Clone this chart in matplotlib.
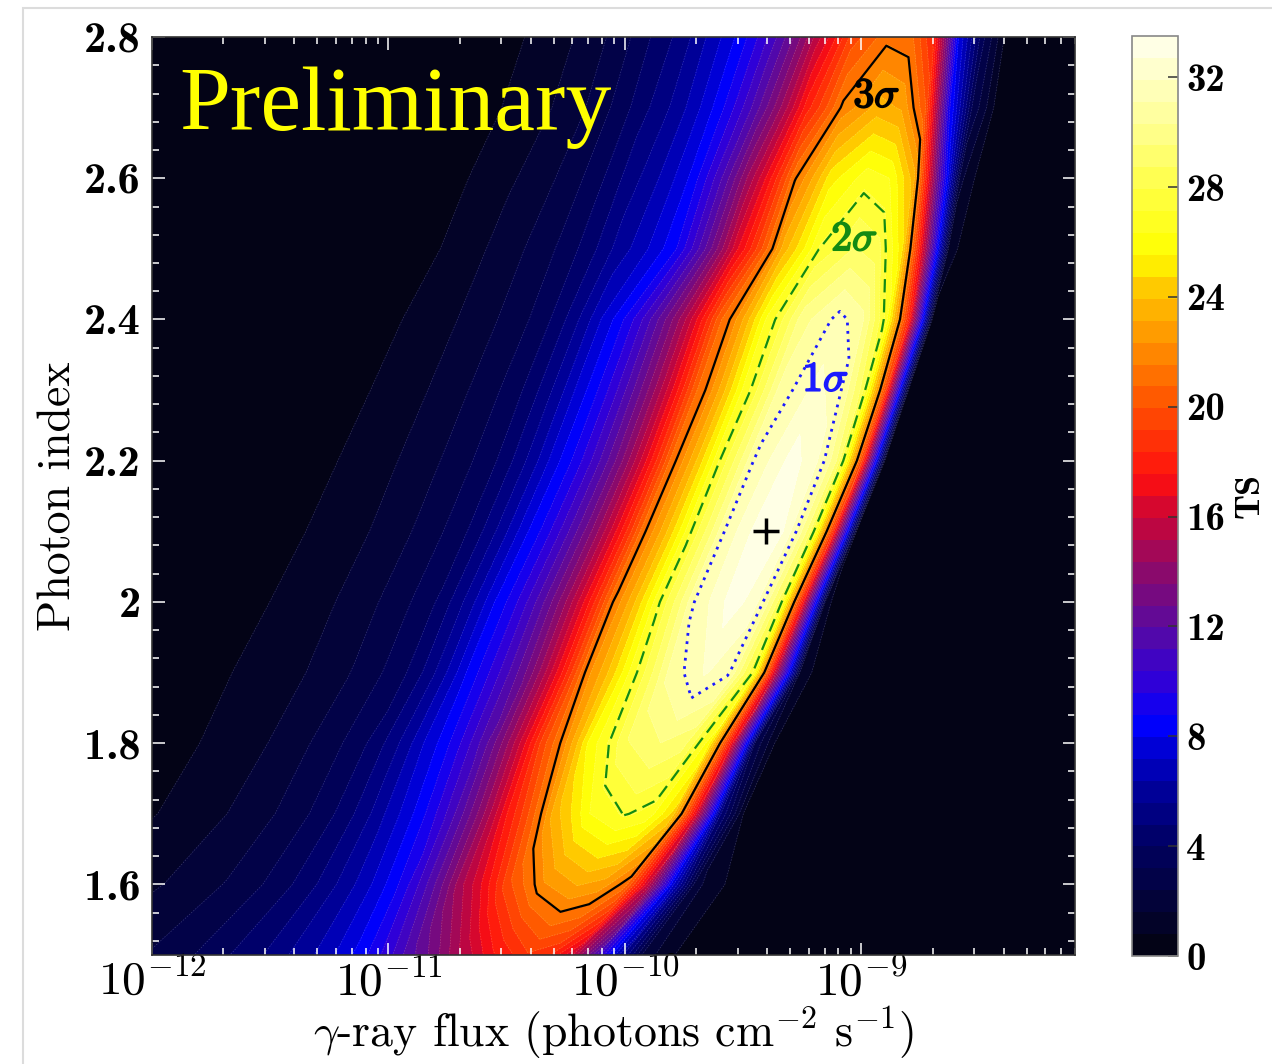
import matplotlib.pyplot as plt
import matplotlib.patheffects as pe
import numpy as np
from matplotlib.colors import LinearSegmentedColormap
from matplotlib.patches import Rectangle
from matplotlib.ticker import FixedLocator, FuncFormatter, LogLocator, MultipleLocator, NullFormatter

plt.rcParams['mathtext.fontset'] = 'cm'

# photon index of each scan row
index_rows = [1.5, 1.6, 1.7, 1.8, 1.9, 2.0, 2.1, 2.2, 2.3, 2.4, 2.5, 2.6, 2.7, 2.8]
# log10 flux of the TS maximum along each row
peak_logflux = [-10.42, -10.20, -10.00, -9.85, -9.66, -9.55, -9.42,
                -9.30, -9.20, -9.10, -9.03, -8.98, -8.93, -8.89]
# flux steps (dex) of the sampled columns, counted from the row maximum
offset_cols = [-3.2, -2.6, -2.0, -1.75, -1.5, -1.25, -1.0, -0.75, -0.5, -0.3,
               -0.15, 0.0, 0.1, 0.2, 0.3, 0.4, 0.5, 0.7, 3.5]
# TS along each row (one list per photon index)
ts_rows = [
    [0.3, 0.8, 1.5, 2.0, 2.8, 4.0, 5.6, 7.8, 11.5, 14.8, 17.3, 19.0, 18.4, 15.8, 11.0, 6.0, 2.0, 0, 0],
    [0.1, 0.5, 1.1, 1.6, 2.4, 3.7, 5.8, 8.9, 14.8, 19.6, 22.2, 23.2, 22.8, 21.2, 15.5, 7.5, 1.8, 0, 0],
    [0, 0.3, 0.75, 1.4, 2.3, 3.8, 6.6, 10.5, 17.5, 23.5, 26.3, 27.3, 26.8, 24.5, 16.5, 5.0, 0.8, 0, 0],
    [0, 0.2, 0.7, 1.3, 2.3, 3.9, 7.2, 11.5, 19.5, 25.8, 28.6, 29.5, 29.0, 26.0, 17.0, 3.0, 0.3, 0, 0],
    [0, 0.1, 0.8, 1.4, 2.4, 4.1, 8.2, 13.0, 22.0, 27.0, 30.6, 32.0, 31.2, 27.2, 15.0, 1.5, 0, 0, 0],
    [0, 0.05, 0.7, 1.35, 2.35, 4.0, 8.0, 13.0, 21.6, 27.3, 31.3, 33.1, 32.3, 28.5, 17.5, 1.0, 0, 0, 0],
    [0, 0, 0.65, 1.3, 2.3, 3.95, 7.8, 12.8, 21.4, 27.2, 31.4, 33.4, 32.6, 29.0, 18.5, 0.6, 0, 0, 0],
    [0, 0, 0.6, 1.3, 2.3, 3.9, 7.6, 12.5, 21.2, 27.2, 31.3, 33.0, 32.3, 29.3, 19.5, 0.5, 0, 0, 0],
    [0, 0, 0.5, 1.2, 2.2, 3.8, 7.4, 12.3, 20.6, 26.5, 30.5, 32.2, 31.5, 28.5, 19.5, 0.5, 0, 0, 0],
    [0, 0, 0.4, 1.1, 2.1, 3.6, 7.2, 12.2, 20.5, 26.5, 30.0, 31.4, 30.6, 27.0, 18.0, 0.6, 0, 0, 0],
    [0, 0, 0.2, 0.8, 1.9, 3.3, 5.9, 8.8, 16.5, 23.5, 27.2, 28.8, 28.2, 25.0, 15.0, 1.2, 0, 0, 0],
    [0, 0, 0.1, 0.6, 1.5, 2.8, 5.2, 8.0, 14.5, 21.5, 25.2, 26.8, 26.3, 23.5, 12.5, 1.8, 0, 0, 0],
    [0, 0, 0.05, 0.4, 1.1, 2.3, 4.5, 7.2, 12.0, 18.0, 21.8, 23.5, 23.0, 20.0, 9.0, 3.0, 0.5, 0, 0],
    [0, 0, 0, 0.3, 0.9, 2.0, 4.0, 6.6, 10.5, 15.5, 19.5, 21.3, 21.0, 18.0, 8.0, 3.5, 0.6, 0, 0],
]

# best-fit position
best_flux = 3.96e-10
best_index = 2.10

# delta-TS for 1, 2, 3 sigma with two free parameters
sigma_labels = ['1σ', '2σ', '3σ']
sigma_dts = [2.30, 6.18, 11.83]
sigma_label_flux = [7.05e-10, 9.35e-10, 1.16e-9]
sigma_label_index = [2.316, 2.515, 2.718]

x_ticks = [1e-12, 1e-11, 1e-10, 1e-9]
cbar_ticks = [0, 4, 8, 12, 16, 20, 24, 28, 32]
ts_max_bar = 33.5

# colour table (TS anchor, colour)
cmap_ts = [0, 2, 4, 6, 8.5, 10, 12, 14, 16, 17.5, 20, 22, 24, 25.7, 28, 30, 32, 33.5]
cmap_hex = ['#03030d', '#03033a', '#000060', '#00009a', '#0000ff', '#3000d8',
            '#5a0a9e', '#8c0a6a', '#cc0535', '#ff0f0f', '#ff5000', '#ff8800',
            '#ffbf00', '#ffff00', '#ffff45', '#ffff8a', '#ffffc5', '#fffff0']


def main():
    cmap = LinearSegmentedColormap.from_list(
        'ts', list(zip(np.array(cmap_ts) / ts_max_bar, cmap_hex)))

    logf = np.array(peak_logflux)[:, None] + np.array(offset_cols)[None, :]
    X = 10 ** logf
    Y = np.repeat(np.array(index_rows)[:, None], len(offset_cols), axis=1)
    TS = np.array(ts_rows, dtype=float)

    fig = plt.figure(figsize=(12.72, 10.64), dpi=100)
    fig.patches.append(Rectangle((23 / 1272, -0.05), 1.2, 1.05 - 8 / 1064,
                                 transform=fig.transFigure, fill=False,
                                 edgecolor='#dcdcdc', lw=1.5))

    ax = fig.add_axes([0.1195, 0.1024, 0.7256, 0.8628])
    ax.set_facecolor(cmap_hex[0])
    levels = np.linspace(0, ts_max_bar, 43)
    cf = ax.contourf(X, Y, TS, levels=levels, cmap=cmap)
    ax.contour(X, Y, TS, levels=levels[1:-1], colors='white', linewidths=0.5,
               alpha=0.22, linestyles=[(0, (2, 2))])

    top = TS.max()
    styles = [('#1a1aff', (0, (1, 2)), 2.0), ('#138a13', (0, (6, 3)), 1.6),
              ('black', 'solid', 1.6)]
    for dts, (c, ls, lw), lab, fx, fy in zip(sigma_dts, styles, sigma_labels,
                                              sigma_label_flux, sigma_label_index):
        ax.contour(X, Y, TS, levels=[top - dts], colors=c, linewidths=lw,
                   linestyles=[ls])
        t = ax.text(fx, fy, '$%s\\sigma$' % lab[0], color=c, fontsize=30,
                    ha='center', va='center')
        t.set_path_effects([pe.withStroke(linewidth=1.3, foreground=c)])

    ax.plot(best_flux, best_index, marker='+', color='black', ms=19, mew=2.5)

    ax.text(0.03, 0.899, 'Preliminary', transform=ax.transAxes, color='#ffff00',
            fontsize=66, family='Liberation Serif', va='baseline')

    ax.set_xscale('log')
    ax.set_xlim(1e-12, 8e-9)
    ax.set_ylim(1.5, 2.8)
    ax.xaxis.set_major_locator(FixedLocator(x_ticks))
    ax.xaxis.set_minor_locator(LogLocator(base=10, subs=np.arange(2, 10), numticks=50))
    ax.xaxis.set_minor_formatter(NullFormatter())
    ax.xaxis.set_major_formatter(FuncFormatter(lambda v, p: '$10^{%d}$' % round(np.log10(v))))
    ax.yaxis.set_major_locator(MultipleLocator(0.2))
    ax.yaxis.set_minor_locator(MultipleLocator(0.04))
    ax.yaxis.set_major_formatter(FuncFormatter(lambda v, p: '%g' % round(v, 2)))
    ax.tick_params(which='both', direction='in', top=True, right=True,
                   color='white', labelcolor='black', width=1.1)
    ax.tick_params(which='major', length=9)
    ax.tick_params(which='minor', length=5)
    ax.tick_params(axis='x', labelsize=34, pad=3)
    ax.tick_params(axis='y', pad=8)
    for lab in ax.get_yticklabels():
        lab.set_family('cmb10')
        lab.set_fontsize(32)
    for s in ax.spines.values():
        s.set_color('#333333')
        s.set_linewidth(1.2)

    ax.set_xlabel('$\\gamma$-ray flux (photons cm$^{-2}$ s$^{-1}$)',
                  family='cmr10', fontsize=33, labelpad=0)
    ax.set_ylabel('Photon index', family='cmr10', fontsize=33, labelpad=3)

    cax = fig.add_axes([0.8899, 0.1015, 0.0362, 0.8647])
    cb = fig.colorbar(cf, cax=cax, ticks=cbar_ticks)
    cb.outline.set_edgecolor('#888888')
    cb.outline.set_linewidth(1.2)
    cax.tick_params(direction='in', length=7, width=1.1, color='#333333', pad=6)
    cax.minorticks_off()
    for lab in cax.get_yticklabels():
        lab.set_family('cmb10')
        lab.set_fontsize(28)
    cb.set_label('TS', family='cmb10', fontsize=26, labelpad=7)

    fig.savefig('out.png', dpi=100)


if __name__ == '__main__':
    main()
